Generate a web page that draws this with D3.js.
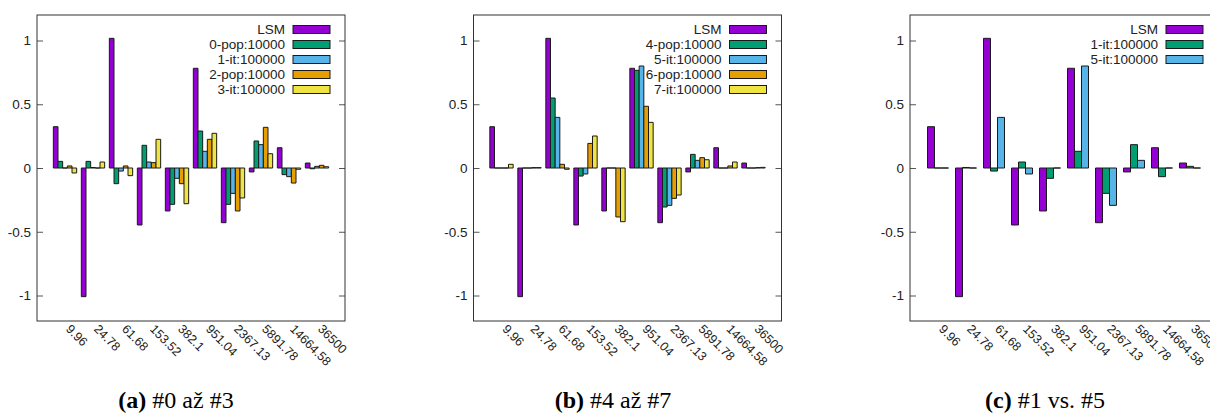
<!DOCTYPE html>
<html>
<head>
<meta charset="utf-8">
<script src="https://cdn.jsdelivr.net/npm/d3@7"></script>
<style>
  html, body { margin: 0; padding: 0; background: #fff; }
  svg { display: block; }
</style>
</head>
<body>
<svg id="chart" width="1210" height="414"></svg>
<script>
// Frequency bins shown on the x axis
const categories = ["9.96", "24.78", "61.68", "153.52", "382.1", "951.04", "2367.13", "5891.78", "14664.58", "36500"];

// Series values per bin
const lsm  = [0.324, -1.009, 1.017, -0.447, -0.337, 0.782, -0.429, -0.031, 0.159, 0.039];
const pop0 = [0.052, 0.052, -0.123, 0.178, -0.285, 0.290, -0.285, 0.212, -0.052, -0.006];
const it1  = [0.000, 0.004, -0.024, 0.047, -0.081, 0.131, -0.199, 0.183, -0.068, 0.013];
const pop2 = [0.016, 0.000, 0.016, 0.042, -0.123, 0.225, -0.337, 0.319, -0.118, 0.021];
const it3  = [-0.039, 0.047, -0.060, 0.225, -0.280, 0.272, -0.235, 0.112, -0.010, 0.010];
const pop4 = [0.000, 0.000, 0.549, -0.063, 0.000, 0.766, -0.306, 0.107, 0.000, 0.000];
const it5  = [0.000, 0.000, 0.397, -0.047, 0.000, 0.800, -0.293, 0.060, 0.000, 0.000];
const pop6 = [0.000, 0.003, 0.029, 0.193, -0.384, 0.484, -0.238, 0.081, 0.016, 0.003];
const it7  = [0.029, 0.003, -0.010, 0.251, -0.421, 0.358, -0.212, 0.065, 0.047, 0.005];

// Y axis ticks
const yTicks = [-1, -0.5, 0, 0.5, 1];

const palette = ["#9400d3", "#009e73", "#56b4e9", "#e69f00", "#f0e442"];

const panels = [
  { left: 37, tag: "(a)", caption: " #0 až #3", capX: 176,
    series: [["LSM", lsm], ["0-pop:10000", pop0], ["1-it:100000", it1], ["2-pop:10000", pop2], ["3-it:100000", it3]] },
  { left: 473.5, tag: "(b)", caption: " #4 až #7", capX: 613,
    series: [["LSM", lsm], ["4-pop:10000", pop4], ["5-it:100000", it5], ["6-pop:10000", pop6], ["7-it:100000", it7]] },
  { left: 910, tag: "(c)", caption: " #1 vs. #5", capX: 1045,
    series: [["LSM", lsm], ["1-it:100000", it1], ["5-it:100000", it5]] }
];

const W = 308, TOP = 15, BOTTOM = 321;
const sansFont = "'Liberation Sans', Arial, sans-serif";
const serifFont = "'Liberation Serif', 'Times New Roman', serif";

const svg = d3.select("#chart");
svg.append("rect").attr("width", 1210).attr("height", 414).attr("fill", "#fff");

const y = d3.scaleLinear().domain([-1.2, 1.2]).range([BOTTOM, TOP]);

panels.forEach(p => {
  const g = svg.append("g");
  const x = d3.scaleLinear().domain([-1, 10]).range([p.left, p.left + W]);
  const n = p.series.length;
  const bw = 1 / (n + 1);

  // Bars (paths, so zero-height bars still show their outline)
  p.series.forEach(([name, vals], j) => {
    g.append("g").selectAll("path")
      .data(vals)
      .join("path")
      .attr("d", (v, i) => {
        const x0 = x(i - (n * bw) / 2 + j * bw);
        const x1 = x(i - (n * bw) / 2 + (j + 1) * bw);
        const y0 = y(0), y1 = y(v);
        return `M${x0},${y0}L${x1},${y0}L${x1},${y1}L${x0},${y1}Z`;
      })
      .attr("fill", palette[j])
      .attr("stroke", "#1a1a1a")
      .attr("stroke-width", 1);
  });

  // Left axis with inward ticks
  const axL = g.append("g")
    .attr("transform", `translate(${p.left},0)`)
    .call(d3.axisLeft(y).tickValues(yTicks).tickSizeInner(-6).tickSizeOuter(0)
      .tickPadding(6).tickFormat(d => String(d)));
  axL.select(".domain").remove();
  axL.selectAll("line").attr("stroke", "#555");
  axL.selectAll("text").attr("font-family", sansFont).attr("font-size", 13.5).attr("fill", "#222");

  // Mirrored ticks on the right edge
  const axR = g.append("g")
    .attr("transform", `translate(${p.left + W},0)`)
    .call(d3.axisRight(y).tickValues(yTicks).tickSizeInner(-6).tickSizeOuter(0).tickFormat(""));
  axR.select(".domain").remove();
  axR.selectAll("line").attr("stroke", "#555");

  // Frame
  g.append("rect")
    .attr("x", p.left).attr("y", TOP)
    .attr("width", W).attr("height", BOTTOM - TOP)
    .attr("fill", "none").attr("stroke", "#333").attr("stroke-width", 1);

  // Rotated category labels
  g.append("g").selectAll("text")
    .data(categories)
    .join("text")
    .attr("transform", (d, i) => `translate(${x(i) + 3},${327}) rotate(45)`)
    .attr("dominant-baseline", "central")
    .attr("text-anchor", "start")
    .attr("font-family", sansFont)
    .attr("font-size", 12.5)
    .attr("fill", "#222")
    .text(d => d);

  // Legend
  const right = p.left + W;
  const lg = g.append("g");
  p.series.forEach(([name], j) => {
    const cy = TOP + 14.5 + j * 15;
    lg.append("text")
      .attr("x", right - 60).attr("y", cy)
      .attr("dominant-baseline", "central")
      .attr("text-anchor", "end")
      .attr("font-family", sansFont).attr("font-size", 13.5).attr("fill", "#222")
      .text(name);
    lg.append("rect")
      .attr("x", right - 52).attr("y", cy - 4)
      .attr("width", 37).attr("height", 8)
      .attr("fill", palette[j]).attr("stroke", "#1a1a1a").attr("stroke-width", 1);
  });

  // Sub-caption
  const cap = svg.append("text")
    .attr("x", p.capX).attr("y", 408)
    .attr("text-anchor", "middle")
    .attr("font-family", serifFont).attr("font-size", 24).attr("fill", "#000");
  cap.append("tspan").attr("font-weight", "bold").text(p.tag);
  cap.append("tspan").text(p.caption);
});
</script>
</body>
</html>
